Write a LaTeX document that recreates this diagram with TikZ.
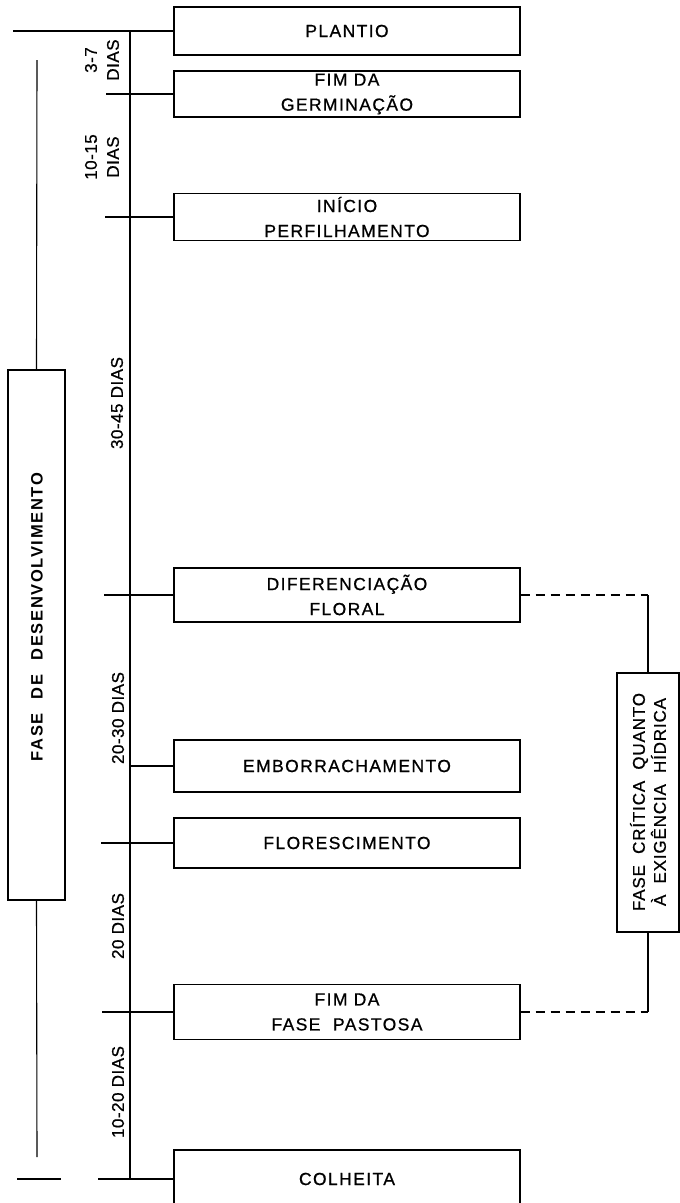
\documentclass[tikz,border=0pt]{standalone}
\usepackage{fontspec}
\setmainfont{Liberation Sans}
\newfontfamily\boxfont[LetterSpace=8,FakeBold=0.8]{Liberation Sans}
\newfontfamily\labfont[LetterSpace=3,FakeBold=0.8]{Liberation Sans}
\newfontfamily\critfont[LetterSpace=5,FakeBold=0.8]{Liberation Sans}
\newfontfamily\boldfont[LetterSpace=10]{Liberation Sans Bold}
\begin{document}
\begin{tikzpicture}[x=1pt,y=-1pt,line width=1.1pt,
  stage/.style={draw,minimum width=346pt,inner sep=0pt,align=center,
    font=\boxfont\fontsize{17.5}{25}\selectfont},
  lab/.style={rotate=90,align=center,inner sep=0pt,
    font=\labfont\fontsize{17}{22}\selectfont},
  plainbox/.style={draw,inner sep=0pt},
  dashline/.style={dash pattern=on 9pt off 6pt}]
\useasboundingbox (0,0) rectangle (680,1203);

% stage boxes
\node[stage,minimum height=48pt] (plantio) at (347,31) {PLANTIO};
\node[stage,minimum height=46pt] (germ) at (347,94) {FIM DA\\GERMINAÇÃO};
\node[stage,minimum height=47pt] (perf) at (347,217) {INÍCIO\\PERFILHAMENTO};
\node[stage,minimum height=54pt] (dif) at (347,595) {DIFERENCIAÇÃO\\FLORAL};
\node[stage,minimum height=52pt] (emb) at (347,766) {EMBORRACHAMENTO};
\node[stage,minimum height=50pt] (flor) at (347,843) {FLORESCIMENTO};
\node[stage,minimum height=55pt] (past) at (347,1012) {FIM DA\\FASE\ \ PASTOSA};
\node[stage,minimum height=58pt] (colh) at (347,1179) {COLHEITA};

% main time line
\coordinate (m1) at (130,31);
\coordinate (m8) at (130,1178);
\draw (m1) -- (m8);

% ticks
\coordinate (t1) at (13,31);
\coordinate (t2) at (106,94);
\coordinate (t3) at (105,217);
\coordinate (t4) at (104,595);
\coordinate (t5) at (130,766);
\coordinate (t6) at (101,843);
\coordinate (t7) at (102,1012);
\coordinate (t8) at (98,1179);
\draw (t1) -- (plantio.west);
\draw (t2) -- (germ.west);
\draw (t3) -- (perf.west);
\draw (t4) -- (dif.west);
\draw (t5) -- (emb.west);
\draw (t6) -- (flor.west);
\draw (t7) -- (past.west);
\draw (t8) -- (colh.west);
\coordinate (b1) at (17,1179);
\coordinate (b2) at (61,1179);
\draw (b1) -- (b2);

% duration labels
\node[lab] (d1) at (102,60) {3-7\\DIAS};
\node[lab] (d2) at (102,157) {10-15\\DIAS};
\node[lab] (d3) at (117,403) {30-45 DIAS};
\node[lab] (d4) at (118,718) {20-30 DIAS};
\node[lab] (d5) at (118,926) {20 DIAS};
\node[lab] (d6) at (118,1092) {10-20 DIAS};

% left phase bar
\node[plainbox,minimum width=57pt,minimum height=530pt] (fasebox) at (36.5,635) {};
\node[rotate=90,inner sep=0pt,font=\boldfont\fontsize{16.5}{18}\selectfont] (fasetext) at (37,617)
  {FASE\hspace{14pt}DE\hspace{14pt}DESENVOLVIMENTO};
\coordinate (ftop) at (37,60);
\coordinate (fbot) at (37,1157);
\draw (ftop) -- (fasebox.north);
\draw (fasebox.south) -- (fbot);

% critical phase box
\node[plainbox,minimum width=62pt,minimum height=259pt] (crit) at (648,802.5) {};
\node[lab,font=\critfont\fontsize{17}{21}\selectfont] (crittext) at (648,802)
  {FASE\ \ CRÍTICA\ \ QUANTO\\À\ \ EXIGÊNCIA\ \ HÍDRICA};
\coordinate (c1) at (crit.north |- dif.east);
\coordinate (c2) at (crit.south |- past.east);
\draw[dashline] (dif.east) -- (c1);
\draw (c1) -- (crit.north);
\draw[dashline] (past.east) -- (c2);
\draw (c2) -- (crit.south);
\end{tikzpicture}
\end{document}
